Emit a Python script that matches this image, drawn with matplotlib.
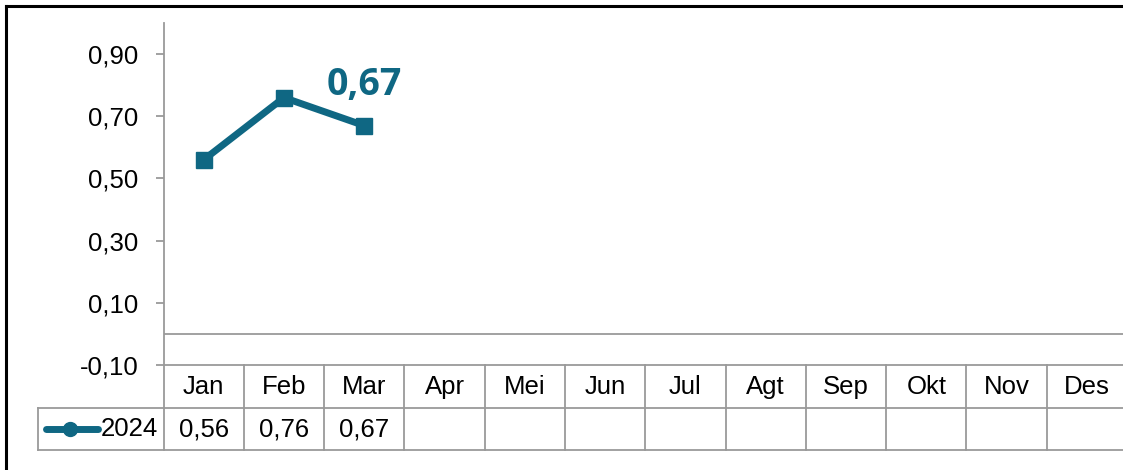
import matplotlib
matplotlib.use("Agg")
import matplotlib.pyplot as plt
from matplotlib.lines import Line2D

# data
months = ["Jan", "Feb", "Mar", "Apr", "Mei", "Jun", "Jul", "Agt", "Sep", "Okt", "Nov", "Des"]
series_name = "2024"
values_2024 = [0.56, 0.76, 0.67]
y_ticks = [-0.10, 0.10, 0.30, 0.50, 0.70, 0.90]

teal = "#0f6783"
grid_grey = "#9a9a9a"
base_size = 18.5
plt.rcParams["font.family"] = ["Liberation Sans", "DejaVu Sans"]

W, H = 1123, 470
fig = plt.figure(figsize=(W / 100, H / 100), dpi=100)


def fx(px):
    return px / W


def fy(py):
    return 1 - py / H


def fmt(v):
    return f"{v:.2f}".replace(".", ",")


# axes: y axis at x=163.5, bottom at y=365, top at y=23
ax_left, ax_right, ax_top, ax_bottom = 163.5, 1127, 23, 365
ax = fig.add_axes([fx(ax_left), fy(ax_bottom), fx(ax_right) - fx(ax_left), fy(ax_top) - fy(ax_bottom)])
ax.set_xlim(-0.5, len(months) - 0.5)
ax.set_ylim(-0.10, 1.00)

x = list(range(len(values_2024)))
ax.plot(x, values_2024, color=teal, lw=5, marker="s", ms=11,
        solid_capstyle="round", solid_joinstyle="round", zorder=3)

# last value callout
ax.annotate(fmt(values_2024[-1]), (x[-1], values_2024[-1]),
            xytext=(0, 29), textcoords="offset points", ha="center", va="center",
            fontsize=27, fontweight="bold", color=teal, family=["Open Sans", "DejaVu Sans"])

ax.axhline(0, color=grid_grey, lw=1.3, zorder=1)

ax.set_yticks(y_ticks)
ax.set_yticklabels([fmt(v) for v in y_ticks], fontsize=base_size)
ax.tick_params(axis="y", length=6, width=1.3, color=grid_grey, pad=12)
ax.set_xticks([])
for s in ["top", "right"]:
    ax.spines[s].set_visible(False)
for s in ["left", "bottom"]:
    ax.spines[s].set_color(grid_grey)
    ax.spines[s].set_linewidth(1.3)

# data table below the plot (x in data units, y in axes units)
ax_h = ax_bottom - ax_top
row_h = 42.7 / ax_h
trans = ax.get_xaxis_transform()
line_kw = dict(color=grid_grey, lw=1.3, transform=trans, clip_on=False)

label_left = -0.5 - (ax_left - 38) / ((ax_right - ax_left) / len(months))
# horizontal lines
ax.plot([label_left, len(months) - 0.5], [-row_h, -row_h], **line_kw)
ax.plot([label_left, len(months) - 0.5], [-2 * row_h, -2 * row_h], **line_kw)
# vertical lines
for i in range(len(months) + 1):
    ax.plot([i - 0.5, i - 0.5], [0, -2 * row_h], **line_kw)
ax.plot([label_left, label_left], [-row_h, -2 * row_h], **line_kw)

row_vals = [fmt(v) for v in values_2024] + [""] * (len(months) - len(values_2024))
for i, m in enumerate(months):
    ax.text(i, -0.52 * row_h, m, transform=trans, ha="center", va="center", fontsize=base_size)
    ax.text(i, -1.5 * row_h, row_vals[i], transform=trans, ha="center", va="center", fontsize=base_size)

# legend entry inside the row label cell
ax.text(-0.5 - 0.07, -1.5 * row_h, series_name, transform=trans, ha="right", va="center", fontsize=base_size)
fig.add_artist(Line2D([fx(46), fx(98)], [fy(429), fy(429)], color=teal, lw=5, solid_capstyle="round"))
fig.add_artist(Line2D([fx(70)], [fy(429)], color=teal, marker="o", ms=10))

# outer border (left and top only visible)
fig.add_artist(Line2D([fx(6), fx(6)], [0, fy(6)], color="black", lw=2.2))
fig.add_artist(Line2D([fx(6), 1], [fy(6), fy(6)], color="black", lw=2.2))

fig.savefig("out.png", dpi=100)
